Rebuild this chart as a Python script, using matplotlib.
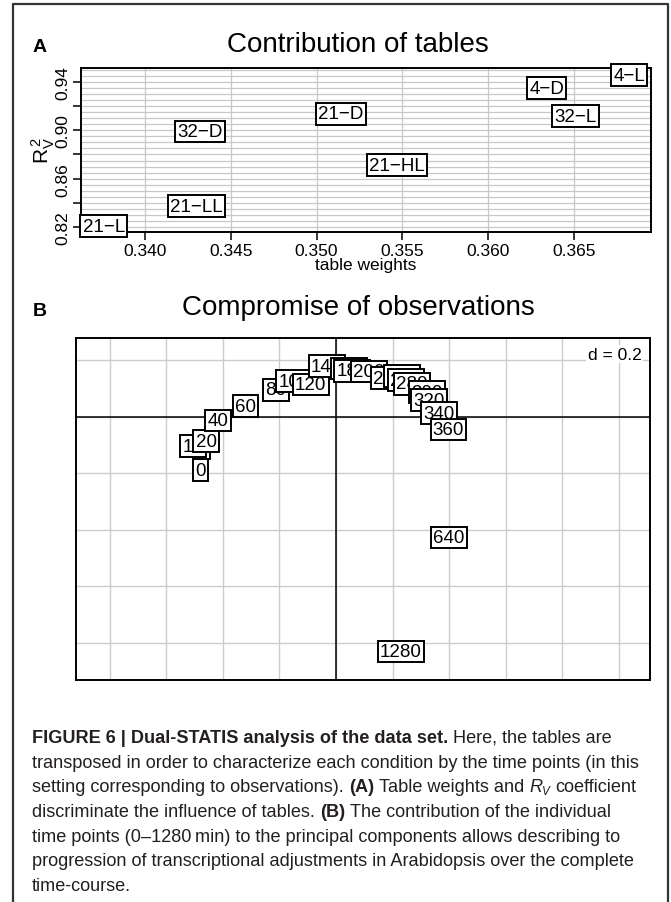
import matplotlib
matplotlib.use('Agg')
import matplotlib.pyplot as plt
from matplotlib import font_manager
import numpy as np

# panel A: table weights vs RV coefficient
tables = ['21-L', '21-LL', '32-D', '21-D', '21-HL', '4-D', '32-L', '4-L']
table_weights = [0.3376, 0.3430, 0.3432, 0.3514, 0.3547, 0.3634, 0.3651, 0.3682]
rv2 = [0.8210, 0.8375, 0.8989, 0.9134, 0.8713, 0.9348, 0.9117, 0.9455]
weight_ticks = [0.340, 0.345, 0.350, 0.355, 0.360, 0.365]
rv_ticks = [0.82, 0.84, 0.86, 0.88, 0.90, 0.92, 0.94]

# panel B: compromise of observations (time points, min)
times = [0, 5, 10, 20, 40, 60, 80, 100, 120, 140, 160, 180, 200, 220, 240,
         260, 280, 300, 320, 340, 360, 640, 1280]
comp1 = [-0.481, -0.474, -0.506, -0.460, -0.418, -0.320, -0.212, -0.149, -0.090,
         -0.033, 0.046, 0.058, 0.117, 0.188, 0.235, 0.248, 0.268, 0.321, 0.329,
         0.365, 0.398, 0.399, 0.229]
comp2 = [-0.189, -0.111, -0.104, -0.086, -0.013, 0.038, 0.095, 0.126, 0.115,
         0.179, 0.171, 0.163, 0.160, 0.137, 0.144, 0.130, 0.117, 0.087, 0.059,
         0.013, -0.045, -0.427, -0.831]

W, H = 671, 903
installed = {f.name for f in font_manager.fontManager.ttflist}
SANS = 'Liberation Sans'
NARROW = 'Liberation Sans Narrow' if 'Liberation Sans Narrow' in installed else 'Liberation Sans'
plt.rcParams['font.family'] = [SANS, 'DejaVu Sans']
plt.rcParams['mathtext.fontset'] = 'custom'
plt.rcParams['mathtext.rm'] = SANS
plt.rcParams['mathtext.it'] = SANS + ':italic'

fig = plt.figure(figsize=(W / 100, H / 100), dpi=100)


def rect(x0, y0, x1, y1):
    # pixel box (top-left origin) -> figure fraction
    return [x0 / W, 1 - y1 / H, (x1 - x0) / W, (y1 - y0) / H]


def fx(x):
    return x / W


def fy(y):
    return 1 - y / H


# outer frame
fig.add_artist(plt.Line2D([fx(13), fx(13), fx(668), fx(668)], [0, fy(5), fy(5), 0],
                          color='#333333', lw=1.6, transform=fig.transFigure))

box = dict(boxstyle='square,pad=0.12', fc='white', ec='black', lw=1.4)

# ---------------- panel A
ax1 = fig.add_axes(rect(81, 69, 651, 233))
ax1.set_xlim(0.33628, 0.36948)
ax1.set_ylim(0.8161, 0.9513)
for v in np.arange(0.82, 0.951, 0.005):
    ax1.axhline(v, color='#c8c8c8', lw=0.9, zorder=0)
for v in weight_ticks:
    ax1.axvline(v, color='#c8c8c8', lw=0.9, zorder=0)
for name, x, y in zip(tables, table_weights, rv2):
    ax1.text(x, y, name.replace('-', '\u2212'), ha='center', va='center',
             fontsize=13.5, bbox=box, zorder=5)
ax1.set_xticks(weight_ticks)
ax1.set_xticklabels(['%.3f' % v for v in weight_ticks], fontsize=12.5)
ax1.set_yticks(rv_ticks)
ax1.set_yticklabels(['%.2f' % v if i % 2 == 0 else '' for i, v in enumerate(rv_ticks)],
                    fontsize=12.5, rotation=90, va='center')
ax1.tick_params(length=6, width=1.1, pad=2)
for s in ax1.spines.values():
    s.set_linewidth(1.4)
ax1.set_xlabel('table weights', fontsize=12.5, labelpad=-1)
ax1.set_ylabel(r'$\mathrm{R}_{\mathrm{V}}^{\,2}$', fontsize=15)
ax1.yaxis.set_label_coords(-0.042, 0.5)

fig.text(fx(358), fy(45), 'Contribution of tables', fontsize=20, ha='center', va='center')
fig.text(fx(33), fy(48), 'A', fontsize=14, fontweight='bold', ha='left', va='center')

# ---------------- panel B
ax2 = fig.add_axes(rect(76, 339, 650, 681))
ax2.set_xlim(-0.920, 1.111)
ax2.set_ylim(-0.932, 0.279)
for v in np.arange(-0.8, 1.01, 0.2):
    ax2.axvline(v, color='#cccccc', lw=1.0, zorder=0)
for v in np.arange(-0.8, 0.21, 0.2):
    ax2.axhline(v, color='#cccccc', lw=1.0, zorder=0)
ax2.axhline(0, color='black', lw=1.1, zorder=1)
ax2.axvline(0, color='black', lw=1.1, zorder=1)
for i, (t, x, y) in enumerate(zip(times, comp1, comp2)):
    ax2.text(x, y, str(t), ha='center', va='center', fontsize=13.5,
             bbox=box, zorder=5 + i)
ax2.text(0.985, 0.975, 'd = 0.2', transform=ax2.transAxes, ha='right', va='top',
         fontsize=12.5, bbox=dict(fc='white', ec='none', pad=1), zorder=40)
ax2.set_xticks([])
ax2.set_yticks([])
for s in ax2.spines.values():
    s.set_linewidth(1.4)

fig.text(fx(358), fy(308), 'Compromise of observations', fontsize=20, ha='center', va='center')
fig.text(fx(33), fy(311), 'B', fontsize=14, fontweight='bold', ha='left', va='center')

# ---------------- caption
renderer = fig.canvas.get_renderer()
CAP = 13.1 if NARROW == 'Liberation Sans' else 15.5
CAP_COLOR = '#231f20'


def text_width(s, **kw):
    t = fig.text(0, 0, s, fontsize=CAP, family=[NARROW, 'DejaVu Sans'], **kw)
    w = t.get_window_extent(renderer).width
    t.remove()
    return w


space_w = text_width('x x') - text_width('xx')


def draw_line(x, y, runs):
    for s, weight, style, dy, scale in runs:
        lead = len(s) - len(s.lstrip(' '))
        trail = len(s) - len(s.rstrip(' '))
        x += lead * space_w
        core = s.strip(' ')
        if core:
            t = fig.text(fx(x), fy(y + dy), core, fontsize=CAP * scale, fontweight=weight,
                         fontstyle=style, family=[NARROW, 'DejaVu Sans'],
                         color=CAP_COLOR, ha='left', va='baseline')
            x += t.get_window_extent(renderer).width
        x += trail * space_w * scale


def plain(s):
    return (s, 'normal', 'normal', 0, 1.0)


def bold(s):
    return (s, 'bold', 'normal', 0, 1.0)


caption = [
    [bold('FIGURE 6 | Dual-STATIS analysis of the data set.'), plain(' Here, the tables are')],
    [plain('transposed in order to characterize each condition by the time points (in this')],
    [plain('setting corresponding to observations). '), bold('(A)'), plain(' Table weights and '),
     ('R', 'normal', 'italic', 0, 1.0), ('V', 'normal', 'italic', 3, 0.65), plain(' coefficient')],
    [plain('discriminate the influence of tables. '), bold('(B)'),
     plain(' The contribution of the individual')],
    [plain('time points (0\u20131280\u2009min) to the principal components allows describing to')],
    [plain('progression of transcriptional adjustments in Arabidopsis over the complete')],
    [plain('time-course.')],
]
baselines = [743, 767.7, 792.4, 817, 841.7, 866.4, 891]
for runs, yb in zip(caption, baselines):
    draw_line(32, yb, runs)

fig.savefig('out.png', dpi=100)
